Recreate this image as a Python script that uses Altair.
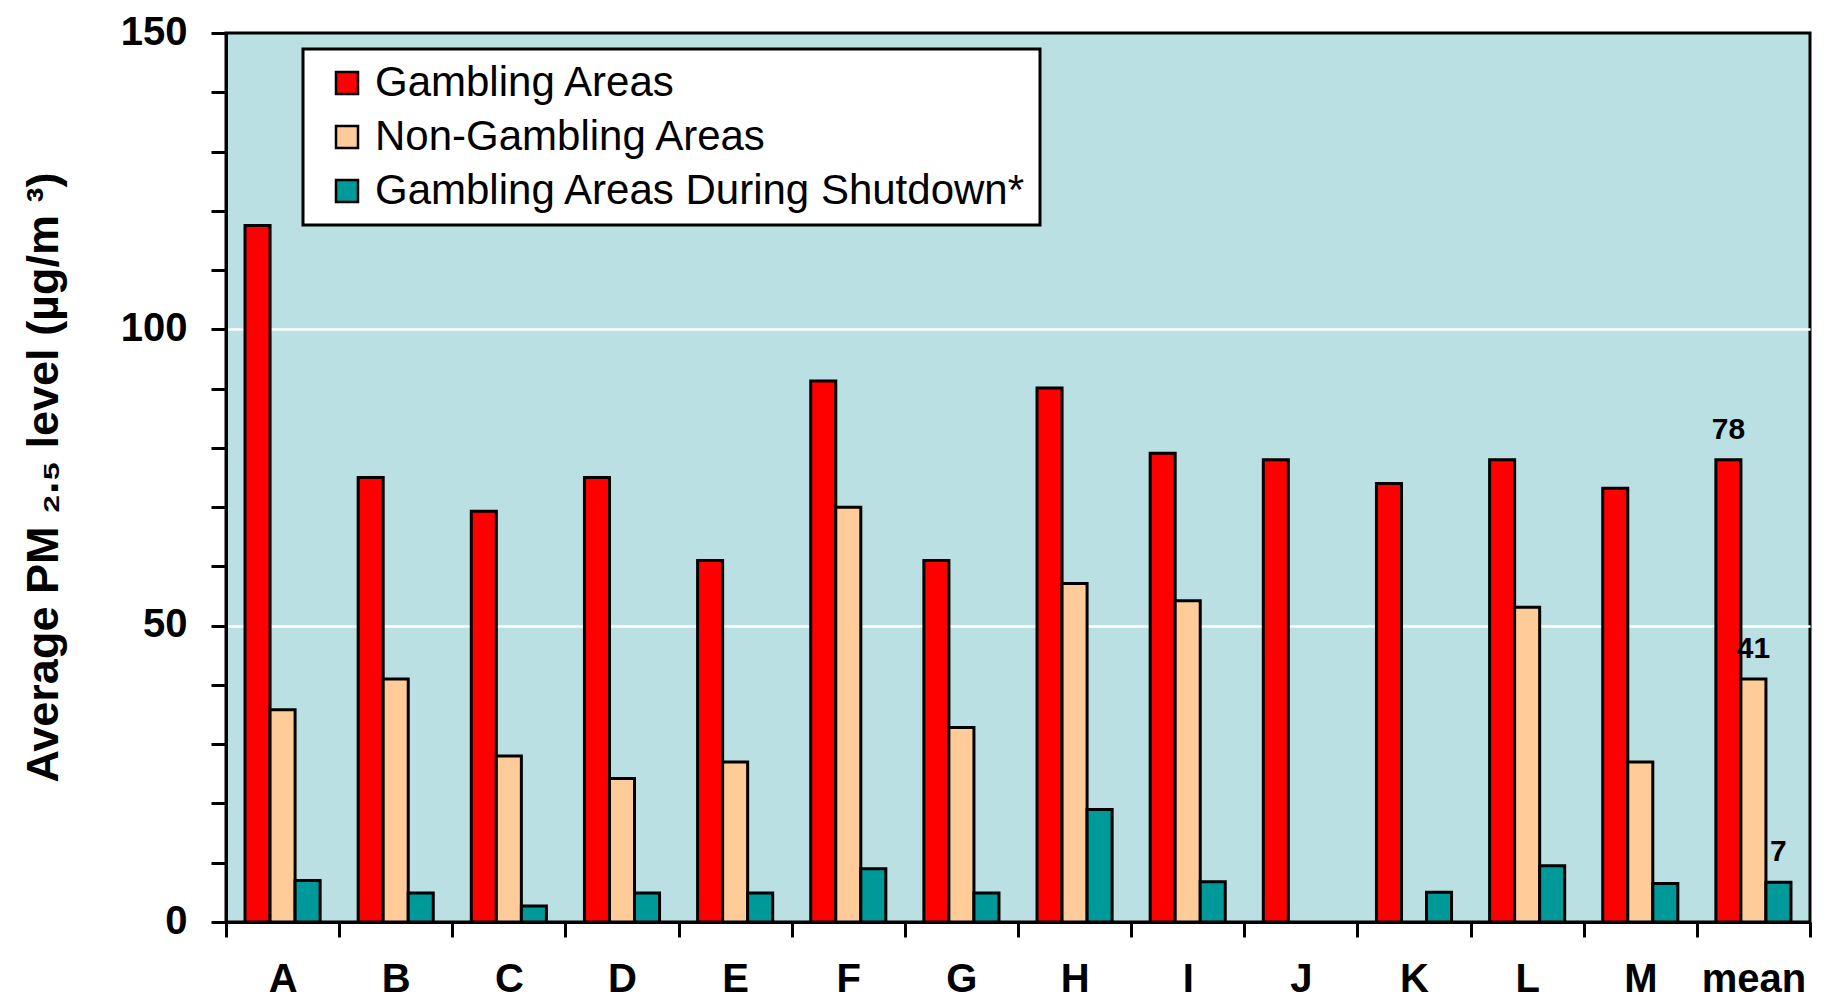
import altair as alt
import pandas as pd

FONT = "Liberation Sans"

categories = ["A", "B", "C", "D", "E", "F", "G", "H", "I", "J", "K", "L", "M", "mean"]
series = ["Gambling Areas", "Non-Gambling Areas", "Gambling Areas During Shutdown*"]
gambling = [117.5, 75, 69.3, 75, 61, 91.3, 61, 90.1, 79.1, 78, 74, 78, 73.2, 78]
non_gambling = [35.8, 41, 28, 24.2, 27, 70, 32.8, 57.1, 54.2, None, None, 53.1, 27, 41]
shutdown = [7, 4.9, 2.7, 4.9, 4.9, 9, 4.9, 19, 6.8, None, 5, 9.5, 6.5, 6.7]
colors = ["#FF0000", "#FFCC99", "#009999"]
y_ticks = [0, 10, 20, 30, 40, 50, 60, 70, 80, 90, 100, 110, 120, 130, 140, 150]

rows = []
for i, c in enumerate(categories):
    for s, vals in zip(series, [gambling, non_gambling, shutdown]):
        v = vals[i]
        if v is not None:
            rows.append({"site": c, "series": s, "value": v})
df = pd.DataFrame(rows)

x_enc = alt.X(
    "site:N",
    sort=categories,
    scale=alt.Scale(paddingInner=0, paddingOuter=0),
    axis=alt.Axis(
        title=None,
        labelAngle=0,
        labelFont=FONT,
        labelFontSize=40,
        labelFontWeight="bold",
        labelColor="black",
        labelBaseline="alphabetic",
        labelPadding=54,
        tickBand="extent",
        tickSize=15,
        tickWidth=3,
        tickColor="black",
        domainColor="black",
        domainWidth=3,
        grid=False,
    ),
)
xo_enc = alt.XOffset("series:N", sort=series, scale=alt.Scale(paddingInner=0, paddingOuter=0.76))
y_enc = alt.Y(
    "value:Q",
    scale=alt.Scale(domain=[0, 150], nice=False, zero=True),
    axis=alt.Axis(
        title="Average PM ₂.₅ level (µg/m ³)",
        titleFont=FONT,
        titleFontSize=45,
        titleFontWeight="bold",
        titleColor="black",
        titleAngle=270,
        titleX=-169,
        titleY=444,
        titleAlign="center",
        titleBaseline="alphabetic",
        values=y_ticks,
        labelExpr="datum.value % 50 == 0 ? datum.label : ''",
        labelFont=FONT,
        labelFontSize=40,
        labelFontWeight="bold",
        labelColor="black",
        labelPadding=24,
        labelBaseline="alphabetic",
        labelOffset=11,
        labelOverlap=False,
        tickSize=15,
        tickWidth=3,
        tickColor="black",
        domainColor="black",
        domainWidth=3,
        grid=True,
        gridColor="white",
        gridWidth=2.5,
        gridOpacity={"condition": {"test": "datum.value == 50 || datum.value == 100", "value": 1}, "value": 0},
    ),
)
color_enc = alt.Color(
    "series:N",
    sort=series,
    scale=alt.Scale(domain=series, range=colors),
    legend=alt.Legend(
        title=None,
        orient="none",
        legendX=77,
        legendY=16,
        fillColor="white",
        strokeColor="black",
        padding=13,
        rowPadding=12,
        symbolType="square",
        symbolSize=484,
        symbolStrokeColor="black",
        symbolStrokeWidth=2.5,
        symbolOpacity=1,
        symbolOffset=10,
        labelOffset=7,
        labelFont=FONT,
        labelFontSize=42,
        labelColor="black",
        labelLimit=1000,
    ),
)

bars = alt.Chart(df).mark_bar(stroke="black", strokeWidth=3, opacity=1).encode(
    x=x_enc, xOffset=xo_enc, y=y_enc, color=color_enc
)

text = (
    alt.Chart(df)
    .transform_filter("datum.site == 'mean'")
    .mark_text(font=FONT, fontSize=30, fontWeight="bold", baseline="alphabetic", dy=-21, color="black")
    .encode(x=x_enc, xOffset=xo_enc, y=y_enc, text=alt.Text("value:Q", format=".0f"))
)

chart = (
    alt.layer(bars, text)
    .properties(
        width=1584,
        height=889,
        autosize=alt.AutoSizeParams(type="none"),
        padding={"left": 218, "top": 25, "right": 9, "bottom": 79},
    )
    .configure(font=FONT)
    .configure_view(fill="#BBE0E3", stroke="black", strokeWidth=3)
    .configure_legend(strokeWidth=3)
)

chart.save("out.html", embed_options={"renderer": "svg", "actions": False})
